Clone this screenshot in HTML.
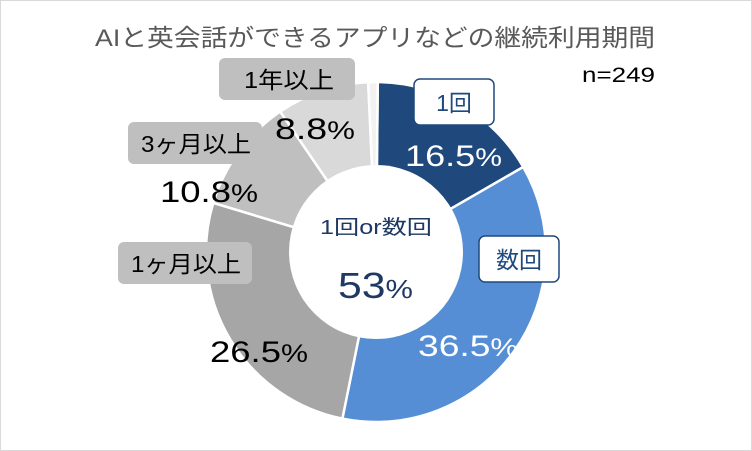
<!DOCTYPE html>
<html><head><meta charset="utf-8"><style>
body{margin:0;background:#fff;}
svg{display:block;font-family:"Liberation Sans","Noto Sans CJK JP",sans-serif;}
</style></head><body>
<svg id="s" width="752" height="451" viewBox="0 0 752 451">
<rect x="0.5" y="0.5" width="751" height="450" fill="#fff" stroke="#d9d9d9"/>
<g id="pie"></g>
<circle cx="376" cy="252" r="87" fill="#fff"/>
<text x="95" y="46" font-size="24" fill="#595959" textLength="560" lengthAdjust="spacingAndGlyphs">AIと英会話ができるアプリなどの継続利用期間</text>
<text x="582" y="82" font-size="21" fill="#000" textLength="73" lengthAdjust="spacingAndGlyphs">n=249</text>
<text x="320" y="234" font-size="20" fill="#1f3864" textLength="112" lengthAdjust="spacingAndGlyphs">1回or数回</text>
<text x="338" y="298" font-size="36" fill="#1f3864" textLength="75" lengthAdjust="spacingAndGlyphs">53<tspan font-size="26">%</tspan></text>
<rect x="219" y="58" width="136" height="42" rx="6" fill="#bfbfbf"/>
<text x="244" y="88" font-size="23" textLength="90" lengthAdjust="spacingAndGlyphs">1年以上</text>
<rect x="128" y="122" width="134" height="42" rx="6" fill="#bfbfbf"/>
<text x="141" y="152" font-size="23" textLength="110" lengthAdjust="spacingAndGlyphs">3ヶ月以上</text>
<rect x="118" y="242" width="134" height="42" rx="6" fill="#bfbfbf"/>
<text x="131" y="272" font-size="23" textLength="110" lengthAdjust="spacingAndGlyphs">1ヶ月以上</text>
<rect x="414" y="79" width="80" height="46" rx="6" fill="#fff" stroke="#1f497d" stroke-width="1.5"/>
<text x="454" y="111" font-size="23" fill="#1f497d" text-anchor="middle">1回</text>
<rect x="479" y="236" width="80" height="46" rx="6" fill="#fff" stroke="#1f497d" stroke-width="1.5"/>
<text x="519" y="268" font-size="23" fill="#1f497d" text-anchor="middle">数回</text>
<text x="405" y="166" font-size="30" fill="#fff" textLength="97" lengthAdjust="spacingAndGlyphs">16.5<tspan font-size="25">%</tspan></text>
<text x="418" y="356" font-size="30" fill="#fff" textLength="100" lengthAdjust="spacingAndGlyphs">36.5<tspan font-size="25">%</tspan></text>
<text x="210" y="362" font-size="30" fill="#000" textLength="98" lengthAdjust="spacingAndGlyphs">26.5<tspan font-size="25">%</tspan></text>
<text x="160" y="202" font-size="30" fill="#000" textLength="98" lengthAdjust="spacingAndGlyphs">10.8<tspan font-size="25">%</tspan></text>
<text x="275" y="139" font-size="30" fill="#000" textLength="80" lengthAdjust="spacingAndGlyphs">8.8<tspan font-size="25">%</tspan></text>
</svg>
<script>
var cx=376,cy=252,r=170,vals=[16.5,36.5,26.5,10.8,8.8,0.9],cols=["#1f497d","#558ed5","#a6a6a6","#bfbfbf","#d9d9d9","#f2f2f2"];
var a=0.6,g=document.getElementById("pie"),h="";
function p(d){var t=(d-90)*Math.PI/180;return (cx+r*Math.cos(t)).toFixed(2)+","+(cy+r*Math.sin(t)).toFixed(2);}
for(var i=0;i<vals.length;i++){var b=a+vals[i]*3.6;
h+='<path d="M'+cx+','+cy+' L'+p(a)+' A'+r+','+r+' 0 '+(b-a>180?1:0)+' 1 '+p(b)+' Z" fill="'+cols[i]+'" stroke="#fff" stroke-width="2.5"/>';a=b;}
g.innerHTML=h;
</script>
</body></html>
